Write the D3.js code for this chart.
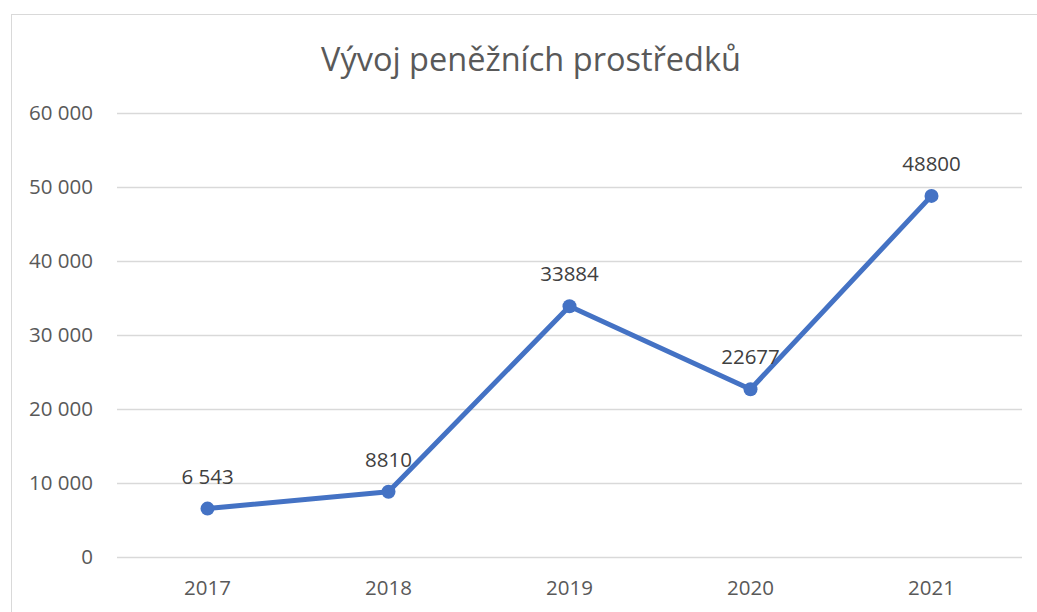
<!DOCTYPE html>
<html>
<head>
<meta charset="utf-8">
<script src="https://cdn.jsdelivr.net/npm/d3@7"></script>
<style>
  body { margin: 0; background: white; }
  text { font-family: "Open Sans", sans-serif; }
</style>
</head>
<body>
<div id="display"></div>
<script>
const years = ['2017', '2018', '2019', '2020', '2021'];
const values = [6543, 8810, 33884, 22677, 48800];
const labels = ['6 543', '8810', '33884', '22677', '48800'];
const yTicks = [0, 10000, 20000, 30000, 40000, 50000, 60000];

const svg = d3.select('#display')
    .append('svg')
    .attr('width', 1037)
    .attr('height', 612);

// chart frame
svg.append('rect')
    .attr('x', 11.5)
    .attr('y', 14.5)
    .attr('width', 1040)
    .attr('height', 620)
    .attr('fill', 'white')
    .attr('stroke', '#d9d9d9')
    .attr('stroke-width', 1);

svg.append('text')
    .attr('x', 531)
    .attr('y', 71)
    .attr('text-anchor', 'middle')
    .attr('fill', '#595959')
    .attr('font-size', '32.5px')
    .text('Vývoj peněžních prostředků');

const x = d3.scaleBand()
    .domain(years)
    .range([117, 1022]);

const y = d3.scaleLinear()
    .domain([0, 60000])
    .range([557, 113]);

const fmt = d => d3.format(',')(d).replace(/,/g, ' ');

// gridlines
svg.append('g')
    .selectAll('line')
    .data(yTicks)
    .join('line')
    .attr('x1', 117)
    .attr('x2', 1022)
    .attr('y1', d => Math.round(y(d)) + 0.5)
    .attr('y2', d => Math.round(y(d)) + 0.5)
    .attr('stroke', '#d9d9d9')
    .attr('stroke-width', 1.5);

// y labels
svg.append('g')
    .selectAll('text')
    .data(yTicks)
    .join('text')
    .attr('x', 93)
    .attr('y', d => y(d))
    .attr('dy', '0.35em')
    .attr('text-anchor', 'end')
    .attr('fill', '#595959')
    .attr('font-size', '20.5px')
    .text(fmt);

// x labels
svg.append('g')
    .selectAll('text')
    .data(years)
    .join('text')
    .attr('x', d => x(d) + x.bandwidth() / 2)
    .attr('y', 588)
    .attr('dy', '0.35em')
    .attr('text-anchor', 'middle')
    .attr('fill', '#595959')
    .attr('font-size', '20.5px')
    .text(d => d);

const cx = (d, i) => x(years[i]) + x.bandwidth() / 2;

const line = d3.line()
    .x((d, i) => cx(d, i))
    .y(d => y(d));

svg.append('path')
    .datum(values)
    .attr('d', line)
    .attr('fill', 'none')
    .attr('stroke', '#4472c4')
    .attr('stroke-width', 5)
    .attr('stroke-linejoin', 'round');

svg.append('g')
    .selectAll('circle')
    .data(values)
    .join('circle')
    .attr('cx', cx)
    .attr('cy', d => y(d))
    .attr('r', 7)
    .attr('fill', '#4472c4');

svg.append('g')
    .selectAll('text')
    .data(values)
    .join('text')
    .attr('x', cx)
    .attr('y', d => y(d) - 32)
    .attr('dy', '0.35em')
    .attr('text-anchor', 'middle')
    .attr('fill', '#404040')
    .attr('font-size', '20.5px')
    .text((d, i) => labels[i]);
</script>
</body>
</html>
